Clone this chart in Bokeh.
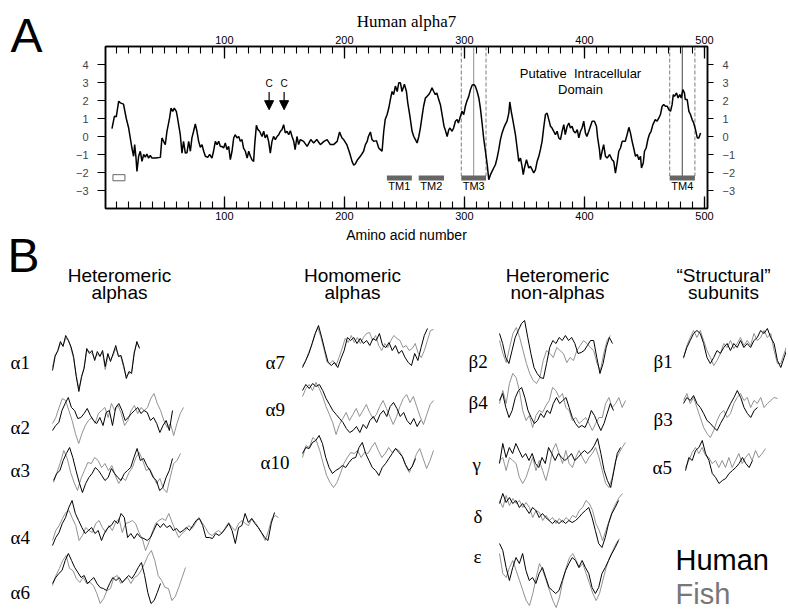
from bokeh.plotting import figure
from bokeh.models import Range1d, LinearAxis, FixedTicker, Arrow, NormalHead
from bokeh.layouts import column, row
from bokeh.embed import file_html
from bokeh.resources import INLINE
from bokeh.core.properties import value

# ---------------- Panel A data: hydropathy of human alpha7 ----------------
HYD_NTERM = [(6.4,0.44),(8.4,1.12),(10,1.1),(12,1.96),(13.3,1.87),(16,1.8),(18.3,1.0),(20.3,0.47),(21.7,-0.1),(23,-0.64),
 (24.4,-1.1),(25.3,-0.45),(26.3,-1.1),(27.2,-1.94),(28.6,-1.1),(30,-0.82),(31.4,-1.38),(32.8,-1.0),(34.2,-1.15),(35.5,-0.97),
 (36.9,-1.2),(38.3,-1.05),(39.7,-1.2),(42.5,-1.2),(46.7,-1.16),(48,-0.08),(49.4,-0.27),(50.8,-0.45),(52.2,0.29),(54.4,1.03),
 (55.6,1.58),(57,1.4),(58.3,1.58),(60,1.4),(61,1.03),(63.3,0.1),(64.7,-0.92),(66,-0.27),(67.5,-0.92),(68.9,-0.9),
 (70.3,-0.27),(71.7,-0.82),(73,-0.08),(74.4,0.29),(75.8,0.7),(77.2,0.29),(78.6,-0.27),(80,-0.6),(81.4,-0.45),(82.8,-0.82),
 (84.2,-1.1),(86.1,-1.16),(87.8,-1.0),(89.7,-1.2),(91,-0.82),(92.5,-0.27),(93.9,-0.45),(95.3,-0.27),(96.7,-0.55),(98,-0.55),
 (99.4,-0.64),(100.8,-0.36),(102.2,-0.73),(103.6,-0.55),(105,-1.29),(106.4,-0.82),(107.8,-0.08),(109,0.1),(110.6,-0.08),(112,0),
 (113.3,-0.27),(114.7,-0.17),(116,-0.64),(117.5,-0.82),(119,-1.2),(120.3,-0.82),(121.7,-1.1),(123,-1.29),(124.4,-1.38),(125.3,-0.45),
 (126.7,0.62),(128,0.38),(129.4,0.29),(131.4,0),(132.8,0.29),(134,-0.08),(135.5,0.1),(136.9,-0.27),(138.3,-0.92),(139.7,-0.27),
 (141,0),(142.5,-0.17),(143.9,0),(145.3,0.1),(146.7,0.29),(148,0.38),(149.4,0.66),(150.8,0.2),(152.2,0.29),(153.6,0.1),
 (155,0.32),(156.4,0),(157.8,-0.27),(159,-0.73),(160.5,0),(161.9,-0.45),(163.3,-0.17)]
HYD_TM = [(166,-0.27),(169,-0.55),(172,-0.17),(174.4,-0.36),(177,-0.17),(180,-0.45),(183,-0.27),(185.6,-0.17),(188.3,-0.45),(191,-0.45),
 (194,-0.27),(196,0.25),(198,-0.08),(199.4,-0.17),(202,-0.45),(204.4,-0.92),(206.4,-1.38),(207.8,-1.6),(209,-1.53),(211,-1.29),
 (213.3,-1.1),(216,-0.82),(217.5,-0.45),(219,-0.27),(220,0),(221.7,0.25),(223,-0.17),(224.4,-0.27),(226.7,-0.23),(228.6,-0.64),
 (230,-0.73),(231.4,-0.82),(232.8,0.29),(234,0.94),(235.6,1.22),(237,1.58),(238.3,2.05),(239.7,2.5),(241,2.33),(242.5,2.8),
 (244,2.5),(245.3,2.98),(246.7,2.98),(248,2.5),(250,2.9),(251.7,2.5),(252.8,1.87),(254.4,1.22),(256.4,0.29),(257.8,0),
 (259.2,-0.17),(260.6,-0.36),(262,0),(263.3,0.47),(264.7,1.12),(266,1.68),(267.5,2.14),(268.9,2.23),(270.3,2.33),(271.7,2.5),
 (273,2.7),(274.4,2.5),(275.8,2.33),(277,2.42),(278.6,2.05),(280,1.77),(281.4,1.22),(283,0.57),(284,0.38),(285.6,0),
 (287,0.38),(288,0.47),(289.7,0.29),(291,0.47),(292.5,0.85),(293.9,0.94),(295,0.75),(296.7,1.12),(298,1.4),(299.4,1.22),
 (300.8,1.68),(302,1.96),(303.6,2.23),(305,2.6),(306.4,2.85),(307.8,2.89),(309,2.8),(310.6,2.5),(312,2.14),(313.3,1.58),
 (314.7,0.75),(316,-0.08),(317.5,-0.82),(319,-1.57),(320.3,-2.4),(321.7,-2.12),(323,-1.94),(324.4,-1.75),(325.8,-1.57),(327.2,-1.2),
 (328.6,-0.73),(330,-0.17),(331.4,0.2),(332.8,0.47),(334,0.66),(335.5,0.85),(337,1.3)]
HYD_CTERM = [(337.8,1.92),(339,1.4),(340.5,0.85),(342.5,0.1),(343.9,-0.64),(345.3,-1.38),(346.7,-1.2),(348,-1.66),(349,-2.12),(350,-1.75),
 (351.7,-1.29),(353.6,-1.75),(355,-1.66),(356.4,-1.84),(357.8,-2.03),(359.2,-1.84),(360.6,-1.38),(362,-1.1),(363.3,-0.73),(364.7,-0.27),
 (366,0.47),(367.5,1.22),(368.9,1.3),(370.3,0.94),(371.7,0.57),(373,0.47),(374.4,0.29),(375.8,0.1),(377.2,0.29),(378.6,-0.08),
 (380,-0.17),(381.4,0.29),(382.8,0.66),(384,0.1),(385.6,0.57),(387,0.75),(388.3,0.47),(389.7,0.57),(391,0.29),(392.5,0.2),
 (394,0.38),(395.3,-0.08),(396.7,0.29),(398,0.47),(399.4,0.85),(400.8,0.2),(402,0),(403.6,0.29),(405,0.57),(406.4,0.85),
 (408.3,0.85),(410,0.57),(411,-0.08),(412.5,-0.73),(413.3,-1.29),(414.7,-0.82),(416,-0.45),(417.5,-1.1),(418.9,-1.2),(421,-1.0),
 (423,-1.29),(424.4,-1.38),(425.8,-2.03),(427.2,-1.47),(428.6,-0.82),(430,-0.64),(431.4,-0.27),(432.8,-0.27),(434,-0.27),(435.5,0.1),
 (437,0.51),(438.3,0.2),(439.7,-0.27),(441,-0.64),(442.5,-1.1),(444,-1.0),(445.3,-1.29),(446.7,-1.1),(447.5,-1.75),(449,-1.47),
 (450,-0.82),(451.4,-0.64),(452.8,-0.17),(454,0.1),(455.5,0.29),(457,0.66),(459,0.94),(460.5,0.85),(462,1.03),(463.3,1.22),
 (464.7,1.68),(466,1.77),(467.5,1.68),(469,1.68),(470.3,1.49),(471.7,1.4),(473,1.77),(474,2.33),(475,2.23),(476.7,2.42),
 (478,2.14),(479.4,2.33),(480.6,2.14),(482,2.6),(483.3,2.42),(484,2.05),(485.6,2.05),(487,1.4),(488.3,1.22),(489.7,0.94),
 (491,0.75),(492.5,0.38),(494,-0.08),(495.3,-0.08),(496.7,0.2)]

TM_NAMES = ["TM1", "TM2", "TM3", "TM4"]
TM_START = [235.4, 261.9, 297.4, 471.0]
TM_END = [256.2, 283.0, 318.0, 492.0]
CYS_SITES = [137.3, 149.8]
SIGNAL_BOX = (7.2, 17.2)
X_MAJOR = [100, 200, 300, 400, 500]
X_MINOR = list(range(10, 501, 10))
Y_TICKS = [-3, -2, -1, 0, 1, 2, 3, 4]

# ---------------- Panel B data: hydropathy profiles (human / fish) ----------------
H_A1 = [-7,7,13,22,17,28,23,17,7,-13,-28,-13,-5,15,10,13,3,12,7,13,-3,10,2,10,18,7,8,-2,-15,-8,-10,10,22,15]
F_A1 = [-4,9,12,20,18,25,24,15,5,-12,-25,-15,-3,13,12,10,5,9,8,11,-6,7,4,8,15,9,6,-4,-13,-10,-8,12,20,17]
H_A2 = [-3,2,5,17,24,30,20,17,9,10,14,19,12,7,4,10,2,15,17,2,20,24,17,7,10,14,17,20,14,17,15,7,10,4,-5,2,7,-3,17]
F_A2 = [4,10,20,29,27,17,7,-6,-16,-6,2,7,10,4,14,17,20,10,24,17,22,14,2,7,17,22,14,20,17,20,29,34,24,17,7,0,4,-8,4,14,20]
H_A3 = [-10,-3,0,10,17,23,13,0,-12,-22,-13,-7,-3,3,0,-5,-10,-7,2,-3,-7,-10,-3,0,3,13,22,10,12,5,0,-7,-10,-20,-17,-7,0,12]
F_A3 = [-12,-2,8,20,12,-2,-12,-20,-8,0,8,7,13,10,3,7,0,5,-5,-13,-7,-10,-2,3,13,18,10,0,2,-5,-13,-8,-18,-22,-7,7,10,17]
H_A4 = [-7,1,6,15,21,31,38,25,18,11,5,8,11,5,8,-2,6,11,13,18,15,25,21,1,5,0,5,1,0,-2,1,8,15,11,15,11,13,8,10,6,
        8,11,8,13,18,20,13,1,1,0,5,3,6,10,15,8,-5,11,13,25,16,20,15,11,6,1,-2,15,26]
F_A4 = [-2,8,13,20,26,28,20,13,-2,3,11,8,6,15,18,11,6,13,8,16,20,6,15,16,18,15,6,0,-12,-4,6,15,18,20,18,25,16,8,1,5,
        8,13,10,15,21,16,11,5,3,6,8,5,11,16,11,8,15,18,15,13,20,16,11,5,-2,8,20,23,21]
H_A6 = [10,16,20,23,33,40,33,26,21,16,18,10,13,16,10,6,5,3,10,16,13,16,11,15,18,15,20,26,31,18,1,-10,-7,1,10]
F_A6 = [8,18,25,33,38,25,23,15,11,16,10,11,8,0,-10,-5,3,5,16,18,10,13,16,10,16,18,23,30,38,43,33,18,13,6,5,-7,-3,6,16,26]
H_A7 = [-4,3,10,20,30,38,26,13,1,-2,1,-4,5,13,26,23,26,20,25,20,23,18,25,23,30,18,16,21,13,18,10,13,6,1,-2,10,3,16,28,35]
F_A7 = [-2,2,11,18,29,36,27,15,2,0,3,-2,6,15,25,21,28,21,26,20,26,30,31,23,28,18,13,20,16,23,28,25,23,16,18,13,15,20,10,6,13,23,33,34]
H_A9 = [20,26,22,27,24,26,20,12,6,0,-4,-8,-12,-18,-22,-20,-16,-22,-14,-18,-10,-6,-12,-4,0,-6,4,8,2,-6,-2,-10,-14,-8,-16,-10]
F_A9 = [14,22,26,20,28,22,14,4,-4,-12,-24,-14,-8,-2,-10,-4,2,-6,0,6,-2,-8,-4,4,10,2,-6,-14,-6,4,12,16,8,14,4,-6,-14,-4,6,10]
H_A10 = [9,15,14,20,22,27,19,5,-5,-11,-8,-6,-3,-5,0,4,5,15,20,9,2,-5,-8,-13,-5,-1,4,9,14,10,6,-2,-8,-4,4]
F_A10 = [5,17,15,25,22,12,-1,-13,-20,-25,-20,-11,-1,5,10,9,12,5,10,9,15,20,12,5,9,15,10,14,12,6,-4,-10,-2,8,14,4,-6,2,12]
H_B2 = [29,19,5,-1,12,25,32,39,42,25,9,-5,-11,-15,-16,-1,15,22,19,25,22,27,22,25,19,9,10,12,17,22,22,5,-11,-1,15,25,19]
F_B2 = [22,9,0,15,29,35,25,12,-1,-11,-18,-21,-15,2,12,9,5,15,12,9,0,5,2,12,17,22,19,15,12,-1,-8,9,22,27]
H_B4 = [3,10,-4,-14,-7,6,13,16,6,-7,-14,-20,-17,-10,-14,-7,-10,0,6,0,3,6,-4,-14,-20,-24,-22,-24,-17,-7,-12,-20,-27,-20,-10,0,-7]
F_B4 = [0,13,0,20,30,26,13,-7,-17,-12,-24,-12,-7,-9,-2,3,16,13,6,10,-4,-7,-17,-14,-20,-17,-14,-20,-27,-20,-14,-14,0,6,-4,0,6,-4,3]
H_G = [9,29,15,25,19,29,22,15,19,12,19,9,5,15,9,25,19,12,19,15,12,15,19,12,15,19,22,19,22,27,34,19,2,-8,-15,2,19,25]
F_G = [12,15,2,15,12,9,-5,-11,-5,5,15,2,12,2,-8,5,22,29,19,9,22,9,5,15,22,15,9,15,19,25,15,2,-11,-15,-5,12,19,25,30]
H_D = [12,22,13,18,12,15,8,12,7,2,8,5,-2,2,-2,-5,-8,-5,-8,-5,-8,-5,-7,-5,-2,2,5,8,-2,-15,-28,-32,-22,-8,2,8,15]
F_D = [15,8,20,10,17,12,15,8,13,8,-2,5,3,-5,0,-5,-2,-8,-3,-7,-2,-5,0,-2,5,8,15,12,5,-8,-15,-25,-15,-5,5,12,18,22]
H_E = [14,7,-10,-23,-10,0,-6,4,-13,-23,-20,-26,-16,-10,-20,-30,-33,-36,-33,-23,-13,-6,0,-3,-10,-3,-10,-16,-30,-36,-30,-16,-10,-3,4,10,17]
F_E = [4,-16,-20,-10,-3,-13,-23,-33,-43,-48,-36,-20,-6,-13,-23,-33,-43,-50,-40,-23,-10,0,4,-3,-10,-6,-16,-26,-36,-43,-36,-23,-10,0,7,14,19]
H_B1 = [5,15,22,29,32,29,19,5,-1,5,12,9,15,19,12,19,15,22,15,19,15,22,25,32,29,34,25,19,2,-5,5,15]
F_B1 = [4,17,25,32,25,32,22,12,5,-3,2,9,19,15,22,14,19,25,17,22,17,29,22,25,32,25,29,12,-1,-1,9,19]
H_B3 = [17,23,20,25,17,13,7,0,-3,-7,-10,-3,3,10,17,23,30,23,13,7,3,10,13]
F_B3 = [20,27,17,23,13,3,-7,-13,-17,-10,0,7,10,3,7,17,23,27,20,23,13,20,17,23,13,17,20,23,22]
H_A5 = [-5,8,5,15,18,25,12,5,-8,-12,-18,-15,-13,-8,-5,-2,2,8,2,-2,5]
F_A5 = [-2,5,13,18,12,18,10,8,2,5,-2,5,-2,8,-2,5,12,2,8,12,5,15,8,12,17]

GROUP_TITLES = [("Heteromeric", "alphas"), ("Homomeric", "alphas"),
                ("Heteromeric", "non-alphas"), ("\u201cStructural\u201d", "subunits")]

SANS = value("Liberation Sans")
SERIF = value("Liberation Serif")

W = 786
HA = 228
HB = 382
LW = 65   # width of the strip that carries the letter "A"
PX_PER_UNIT = 18.0  # panel A: pixels per hydropathy unit


def mid_px(baseline, fs, k=0.36):
    """vertical centre (screen-down px) of a text whose baseline is given"""
    return baseline - k * fs


def mid_units(baseline, fs, k=0.36):
    """vertical centre in panel A data units of a text whose baseline is given"""
    return baseline + k * fs / PX_PER_UNIT


def bare(width, height, xr, yr):
    f = figure(width=width, height=height, x_range=xr, y_range=yr, title=None,
               output_backend="svg", toolbar_location=None,
               x_axis_location=None, y_axis_location=None,
               min_border=0, min_border_left=0, min_border_right=0,
               min_border_top=0, min_border_bottom=0)
    f.frame_align = False
    f.grid.visible = False
    f.outline_line_color = None
    f.background_fill_color = "white"
    f.border_fill_color = "white"
    return f


# ============================ Panel A ============================
pl = bare(LW, HA, Range1d(0, LW), Range1d(HA, 0))
pl.text(x=[10], y=[mid_px(52, 48)], text=["A"], text_font=SANS, text_font_size="48px",
        text_align="left", text_baseline="middle", text_color="black")

pa = figure(width=W - LW, height=HA, x_range=Range1d(1, 502.5), y_range=Range1d(-4, 5), title=None,
            output_backend="svg", toolbar_location=None,
            x_axis_location=None, y_axis_location=None,
            min_border_left=105 - LW, min_border_right=W - 707, min_border_top=46, min_border_bottom=20)
pa.frame_align = False
pa.grid.visible = False
pa.outline_line_color = "black"
pa.outline_line_width = 1.5
pa.background_fill_color = "white"
pa.border_fill_color = "white"

for loc in ("below", "above"):
    ax = LinearAxis(ticker=FixedTicker(ticks=X_MAJOR, minor_ticks=X_MINOR))
    ax.major_tick_in = 12
    ax.major_tick_out = 0
    ax.minor_tick_in = 7
    ax.minor_tick_out = 0
    ax.major_label_standoff = 3
    ax.axis_line_width = 1.5
    ax.major_tick_line_width = 1.3
    ax.minor_tick_line_width = 1.1
    ax.major_label_text_font = "Liberation Sans"
    ax.major_label_text_font_size = "11px"
    ax.major_label_text_color = "black"
    if loc == "above":
        ax.axis_label = "Human alpha7"
        ax.axis_label_text_font = "Liberation Serif"
        ax.axis_label_text_font_size = "17px"
        ax.axis_label_text_font_style = "normal"
        ax.axis_label_text_color = "black"
        ax.axis_label_standoff = 2
    pa.add_layout(ax, loc)

for loc, tout in (("left", 8), ("right", 6)):
    ay = LinearAxis(ticker=FixedTicker(ticks=Y_TICKS, minor_ticks=[]))
    ay.major_tick_in = 0
    ay.major_tick_out = tout
    ay.minor_tick_in = 0
    ay.minor_tick_out = 0
    ay.major_label_standoff = 9
    ay.axis_line_width = 1.5
    ay.major_tick_line_width = 1.2
    ay.major_label_text_font = "Liberation Sans"
    ay.major_label_text_font_size = "11px"
    pa.add_layout(ay, loc)

# TM boundary lines (TM3 and TM4)
for i in (2, 3):
    s, e = TM_START[i], TM_END[i]
    pa.segment(x0=[s, e], y0=[5, 5], x1=[s, e], y1=[-2.2, -2.2],
               line_color="#888888", line_width=1.1, line_dash="4 2")
    pa.segment(x0=[(s + e) / 2], y0=[5], x1=[(s + e) / 2], y1=[-2.2],
               line_color="#999999" if i == 2 else "#555555", line_width=1.1)

# TM bars
pa.segment(x0=TM_START, y0=[-2.31] * 4, x1=TM_END, y1=[-2.31] * 4,
           line_color="#666666", line_width=5, line_cap="butt")
pa.text(x=[(s + e) / 2 for s, e in zip(TM_START, TM_END)], y=[mid_units(-2.96, 11)] * 4, text=TM_NAMES,
        text_font=SANS, text_font_size="11px", text_align="center",
        text_baseline="middle", text_color="black")

# signal peptide box
pa.quad(left=[SIGNAL_BOX[0]], right=[SIGNAL_BOX[1]], bottom=[-2.46], top=[-2.12],
        fill_color=None, line_color="#666666", line_width=1)

# hydropathy curve
hyd = HYD_NTERM + HYD_TM + HYD_CTERM
pa.line([a for a, _ in hyd], [h for _, h in hyd], line_color="black", line_width=1.5)

# cysteine arrows
for c in CYS_SITES:
    pa.add_layout(Arrow(end=NormalHead(size=9, fill_color="black", line_color="black", line_width=1),
                        x_start=c, y_start=2.47, x_end=c, y_end=1.49,
                        line_color="black", line_width=1.2))
pa.text(x=CYS_SITES, y=[mid_units(2.74, 10)] * 2, text=["C", "C"], text_font=SANS, text_font_size="10px",
        text_align="center", text_baseline="middle")

pa.text(x=[396.7, 396.7], y=[mid_units(3.26, 13), mid_units(2.37, 13)],
        text=["Putative\u00a0\u00a0Intracellular", "Domain"],
        text_font=SANS, text_font_size="13px", text_align="center", text_baseline="middle")

# ============================ Panel B ============================
pb = bare(W, HB, Range1d(0, W), Range1d(HA + HB, HA))

pb.text(x=[406], y=[mid_px(240, 14)], text=["Amino acid number"], text_font=SANS, text_font_size="14px",
        text_align="center", text_baseline="middle")
pb.text(x=[7], y=[mid_px(272, 48)], text=["B"], text_font=SANS, text_font_size="48px",
        text_align="left", text_baseline="middle")

head_x = [119, 352, 557, 723]
pb.text(x=head_x, y=[mid_px(282, 19)] * 4, text=[t[0] for t in GROUP_TITLES], text_font=SANS,
        text_font_size="19px", text_align="center", text_baseline="middle")
pb.text(x=head_x, y=[mid_px(299, 19)] * 4, text=[t[1] for t in GROUP_TITLES], text_font=SANS,
        text_font_size="19px", text_align="center", text_baseline="middle")

# (label, label_x, label_baseline, trace_base, x_start, x_end_human, x_end_fish, human, fish)
rows = [
    ("\u03b11", 10, 368, 363, 52, 139, 139, H_A1, F_A1),
    ("\u03b12", 10, 433, 427, 52, 172, 183, H_A2, F_A2),
    ("\u03b13", 10, 476, 470, 53, 172, 180, H_A3, F_A3),
    ("\u03b14", 10, 543, 538, 52, 274, 278, H_A4, F_A4),
    ("\u03b16", 10, 598, 593, 52, 160, 185, H_A6, F_A6),
    ("\u03b17", 265, 368, 363, 302, 427, 433, H_A7, F_A7),
    ("\u03b19", 265, 415, 410, 302, 420, 433, H_A9, F_A9),
    ("\u03b110", 260, 468, 462, 302, 415, 433, H_A10, F_A10),
    ("\u03b22", 468, 367, 362, 499, 612, 610, H_B2, F_B2),
    ("\u03b24", 468, 408, 403, 499, 613, 625, H_B4, F_B4),
    ("\u03b3", 472, 470, 472, 499, 620, 625, H_G, F_G),
    ("\u03b4", 473, 522, 515, 499, 618, 622, H_D, F_D),
    ("\u03b5", 473, 562, 557, 499, 618, 619, H_E, F_E),
    ("\u03b21", 653, 367, 362, 683, 787, 787, H_B1, F_B1),
    ("\u03b23", 653, 425, 420, 683, 757, 777, H_B3, F_B3),
    ("\u03b15", 652, 473, 465, 685, 752, 765, H_A5, F_A5),
]

for lab, lx, ly, base, x0, x1h, x1f, hv, fv in rows:
    nf = len(fv)
    pb.line([x0 + (x1f - x0) * i / (nf - 1) for i in range(nf)], [base - v for v in fv],
            line_color="#858585", line_width=0.9)
    nh = len(hv)
    pb.line([x0 + (x1h - x0) * i / (nh - 1) for i in range(nh)], [base - v for v in hv],
            line_color="black", line_width=1.0)

pb.text(x=[r[1] for r in rows], y=[mid_px(r[2], 19, 0.33) for r in rows], text=[r[0] for r in rows],
        text_font=SERIF, text_font_size="19px", text_align="left", text_baseline="middle")

pb.text(x=[675], y=[mid_px(570, 29)], text=["Human"], text_font=SANS, text_font_size="29px",
        text_align="left", text_baseline="middle", text_color="black")
pb.text(x=[675], y=[mid_px(604, 29)], text=["Fish"], text_font=SANS, text_font_size="29px",
        text_align="left", text_baseline="middle", text_color="#777777")

layout = column(row(pl, pa, spacing=0), pb, spacing=0)
open("out.html", "w").write(file_html(layout, INLINE))
